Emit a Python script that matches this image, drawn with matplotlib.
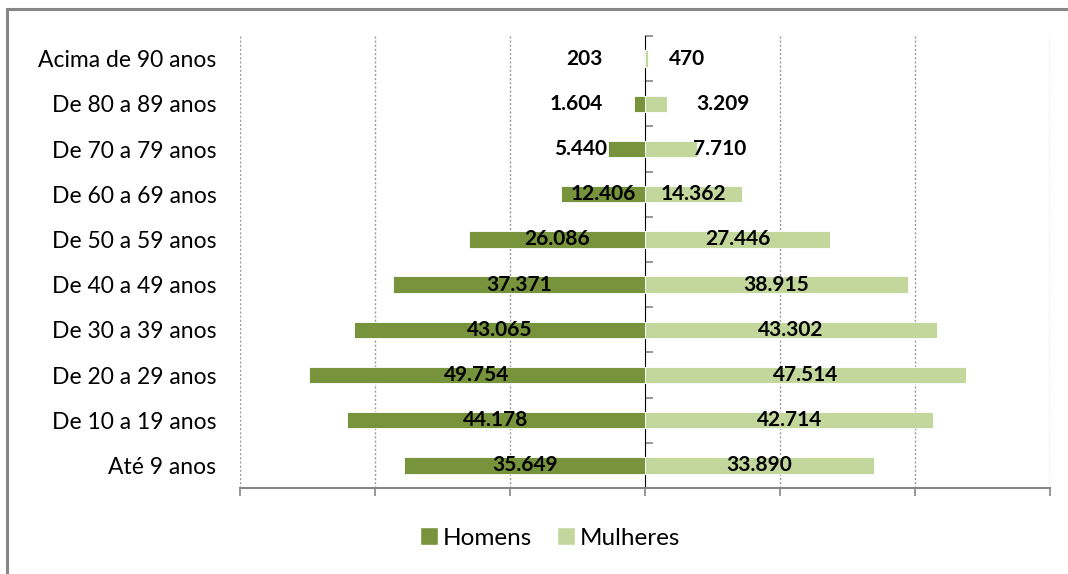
import matplotlib
matplotlib.use('Agg')
import matplotlib.pyplot as plt
from matplotlib.patches import Rectangle, Patch

plt.rcParams['font.family'] = ['Lato', 'DejaVu Sans']

# data, bottom row first
faixas = ['Até 9 anos', 'De 10 a 19 anos', 'De 20 a 29 anos', 'De 30 a 39 anos',
          'De 40 a 49 anos', 'De 50 a 59 anos', 'De 60 a 69 anos',
          'De 70 a 79 anos', 'De 80 a 89 anos', 'Acima de 90 anos']
homens = [35649, 44178, 49754, 43065, 37371, 26086, 12406, 5440, 1604, 203]
mulheres = [33890, 42714, 47514, 43302, 38915, 27446, 14362, 7710, 3209, 470]
xticks = [-60000, -40000, -20000, 0, 20000, 40000, 60000]

# hand-placed labels for the short bars (label centre, data units)
nudge_h = {7: 9600, 8: 10200, 9: 9000}
nudge_m = {7: 11000, 8: 11550, 9: 6200}

cor_h = '#77933C'
cor_m = '#C3D69B'
cinza = '#868686'

fig = plt.figure(figsize=(10.68, 5.74), dpi=100)
ax = fig.add_axes([240 / 1068, 1 - 488 / 574, 810 / 1068, 452 / 574])

y = list(range(len(faixas)))
ax.barh(y, [-v for v in homens], height=0.36, color=cor_h,
        edgecolor='white', linewidth=0.6, zorder=3)
ax.barh(y, mulheres, height=0.36, color=cor_m,
        edgecolor='white', linewidth=0.6, zorder=3)

fmt = lambda v: f'{v:,}'.replace(',', '.')
for i, (h, m) in enumerate(zip(homens, mulheres)):
    xh = -nudge_h.get(i, h / 2)
    xm = nudge_m.get(i, m / 2)
    ax.text(xh, i, fmt(h), ha='center', va='center', fontsize=15,
            fontweight='bold', color='black', zorder=5)
    ax.text(xm, i, fmt(m), ha='center', va='center', fontsize=15,
            fontweight='bold', color='black', zorder=5)

ax.set_xlim(-60000, 60000)
ax.set_ylim(-0.5, len(faixas) - 0.5)
ax.set_xticks(xticks)
ax.set_xticklabels([])
ax.tick_params(axis='x', direction='out', length=6, width=1.2, color=cinza)
ax.set_yticks(y)
ax.set_yticklabels(faixas, fontsize=16.5)
ax.tick_params(axis='y', length=0, pad=17)

for x in xticks:
    if x != 0:
        ax.axvline(x, color='#999999', linestyle=(0, (1.5, 1.5)),
                   linewidth=1, zorder=1)

for s in ('top', 'right', 'left'):
    ax.spines[s].set_visible(False)
ax.spines['bottom'].set_color(cinza)
ax.spines['bottom'].set_linewidth(1.5)

# category axis sits at zero
eixo = ax.secondary_yaxis(0.5)
eixo.set_yticks([i - 0.5 for i in range(len(faixas) + 1)])
eixo.set_yticklabels([])
eixo.tick_params(direction='out', length=6, width=1.2, color=cinza)
eixo.spines['left'].set_color('#7a7a7a')
eixo.spines['left'].set_linewidth(1.6)

handles = [Patch(facecolor=cor_h, edgecolor='white', label='Homens'),
           Patch(facecolor=cor_m, edgecolor='white', label='Mulheres')]
fig.legend(handles=handles, loc='center', bbox_to_anchor=(550 / 1068, 1 - 538 / 574),
           ncol=2, frameon=False, fontsize=17.5, handlelength=0.75,
           handleheight=0.75, handletextpad=0.2, columnspacing=1.0)

# chart frame, only the top and left edges are inside the picture
fig.patches.append(Rectangle((7 / 1068, -0.1), 1.2, 1.1 - 9 / 574,
                             transform=fig.transFigure, fill=False,
                             edgecolor=cinza, linewidth=2.2))

fig.savefig('out.png', dpi=100)
